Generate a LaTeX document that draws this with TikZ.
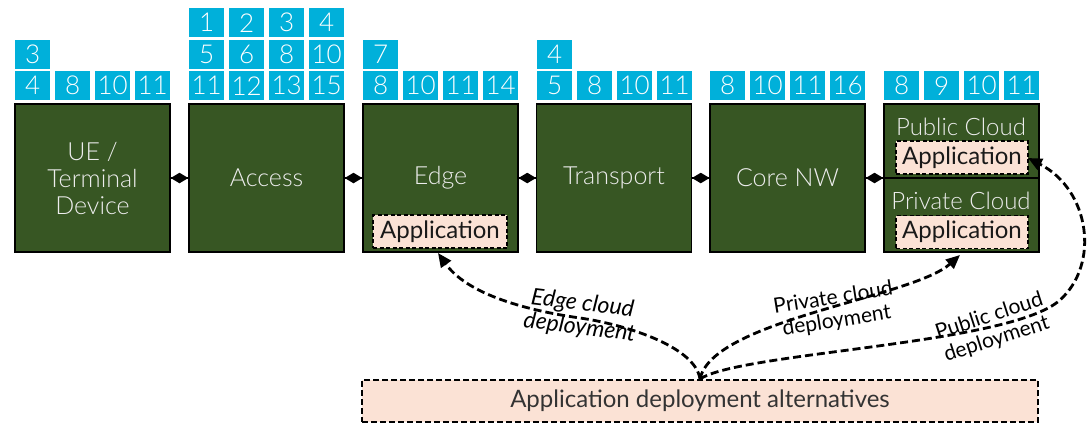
\documentclass[tikz,border=0pt]{standalone}
\usepackage{fontspec}
\setmainfont{Lato}
\newfontfamily\lightfont{Lato Light}
\usetikzlibrary{arrows.meta, shapes.geometric}
\definecolor{stagegreen}{HTML}{375623}
\definecolor{tagblue}{HTML}{00B0DA}
\definecolor{peach}{HTML}{FBE2D5}
\definecolor{labelgrey}{HTML}{EDEDED}

% one row of numbered tags above a stage: prefix, left x, top y, values
\newcommand\tagrow[4]{%
  \foreach \v [count=\i] in {#4} {
    \node[tag, anchor=north west] (#1-\i) at ({#2+40*(\i-1)}, #3) {\v};
  }}

\begin{document}
\begin{tikzpicture}[x=1pt, y=-1pt,
  stage/.style={draw=black, line width=1.8pt, fill=stagegreen,
    minimum width=155pt, minimum height=148pt, inner sep=0pt,
    text=labelgrey, align=center,
    font=\lightfont\fontsize{25}{27}\selectfont},
  tag/.style={fill=tagblue, text=white, minimum width=35pt,
    minimum height=29pt, inner sep=0pt,
    font=\lightfont\fontsize{26}{26}\selectfont},
  cloudlbl/.style={text=labelgrey, inner sep=0pt,
    font=\lightfont\fontsize{24}{24}\selectfont},
  appbox/.style={preaction={fill=peach, draw=white, line width=1.8pt},
    draw=black, line width=1.8pt, dash pattern=on 4pt off 2.5pt,
    minimum width=132pt, minimum height=33pt, inner sep=0pt,
    text=black!90, font=\fontsize{24}{24}\selectfont},
  altbox/.style={fill=peach, draw=black, line width=1.9pt,
    dash pattern=on 6pt off 3pt, minimum width=676pt,
    minimum height=42pt, inner sep=0pt, text=black!80,
    font=\fontsize{24}{24}\selectfont},
  link/.style={line width=1.2pt},
  lozenge/.style={diamond, fill=black, draw=none, inner sep=0pt,
    minimum width=18pt, minimum height=11pt},
  deploy/.style={line width=2.8pt, dash pattern=on 8pt off 4pt,
    -{Triangle[length=14pt,width=12pt]}},
  deplbl/.style={align=center, inner sep=0pt, text=black,
    font=\fontsize{21}{23}\selectfont}]

\useasboundingbox (0,0) rectangle (1087,426);

% network stages
\node[stage] (ue)   at (92.5,178)  {UE /\\Terminal\\Device};
\node[stage] (acc)  at (266.5,178) {Access};
\node[stage] (edge) at (440.5,178) {Edge};
\node[stage] (tra)  at (614,178)   {Transport};
\node[stage] (core) at (787.5,178) {Core NW};
\node[stage] (cloud) at (961.5,178) {};
\coordinate (divl) at (884,178);
\coordinate (divr) at (1039,178);
\draw[line width=1.8pt] (divl) -- (divr);

% labels and applications inside the stages
\node[cloudlbl] (publ)  at (961,127) {Public Cloud};
\node[cloudlbl] (privl) at (961,201) {Private Cloud};
\node[appbox] (pubapp)  at (962,157.5) {Application};
\node[appbox] (privapp) at (962,232)   {Application};
\node[appbox, minimum width=134pt] (edgeapp) at (440,231.5) {Application};

% links between neighbouring stages
\draw[link] (ue.east)   -- node[lozenge] (lk1) {} (acc.west);
\draw[link] (acc.east)  -- node[lozenge] (lk2) {} (edge.west);
\draw[link] (edge.east) -- node[lozenge] (lk3) {} (tra.west);
\draw[link] (tra.east)  -- node[lozenge] (lk4) {} (core.west);
\draw[link] (core.east) -- node[lozenge] (lk5) {} (cloud.west);

% numbered tags
\tagrow{ue3}{15}{71}{4,8,10,11}
\tagrow{ue2}{15}{40}{3}
\tagrow{acc3}{189}{71}{11,12,13,15}
\tagrow{acc2}{189}{40}{5,6,8,10}
\tagrow{acc1}{189}{8}{1,2,3,4}
\tagrow{edg3}{363}{71}{8,10,11,14}
\tagrow{edg2}{363}{40}{7}
\tagrow{tra3}{537}{71}{5,8,10,11}
\tagrow{tra2}{537}{40}{4}
\tagrow{cor3}{710}{71}{8,10,11,16}
\tagrow{cld3}{884}{71}{8,9,10,11}

% deployment alternatives
\node[altbox] (alt) at (700,401) {Application deployment alternatives};
\coordinate (edgein) at (438,253);
\coordinate (edgemid) at (580,318);
\coordinate (privin) at (960,255);
\coordinate (pubin)  at (1028,158);
\coordinate (pubturn) at (1060,300);

\draw[deploy] (alt.north) .. controls (695,345) and (620,323.6) .. (edgemid)
  .. controls (540,312.4) and (470,298) .. (edgein);
\draw[deploy] (alt.north) .. controls (712,320) and (912,298) .. (privin);
\draw[deploy] (alt.north) .. controls (740,352) and (1010,345) .. (pubturn)
  .. controls (1100,264) and (1090,190) .. (pubin);

\node[deplbl, rotate=-7, font=\itshape\fontsize{23}{24}\selectfont]
  (edgelbl) at (581,316) {Edge cloud\\deployment};
\node[deplbl, rotate=9]  (privlbl) at (835,310) {Private cloud\\deployment};
\node[deplbl, rotate=18, font=\fontsize{21}{24}\selectfont]
  (publbl) at (993,328) {Public cloud\\deployment};
\end{tikzpicture}
\end{document}
